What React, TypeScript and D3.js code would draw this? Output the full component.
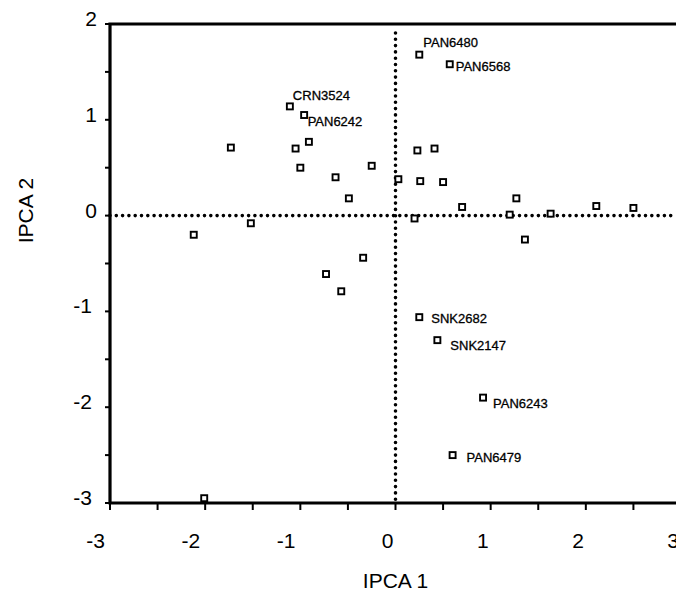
import { range, scaleLinear, select } from "d3";
import { useEffect, useRef } from "react";

// genotype scores on the first two interaction principal components
const genotypes = [
  "PAN6480", "PAN6568", "CRN3524", "PAN6242", "", "", "", "", "", "",
  "", "", "", "", "", "", "", "", "", "",
  "", "", "", "", "", "", "", "", "", "",
  "SNK2682", "SNK2147", "PAN6243", "PAN6479",
];
const ipca1 = [
  0.25, 0.57, -1.11, -0.96, -1.73, -1.05, -0.91, -1.0, -0.63, -0.25,
  -0.49, 0.23, 0.41, 0.03, 0.26, 0.5, 0.2, 0.7, 1.27, 1.2,
  1.36, 1.63, 2.11, 2.5, -2.12, -1.52, -0.34, -0.73, -0.57, -2.01,
  0.25, 0.44, 0.92, 0.6,
];
const ipca2 = [
  1.68, 1.58, 1.14, 1.05, 0.71, 0.7, 0.77, 0.5, 0.4, 0.52,
  0.18, 0.68, 0.7, 0.38, 0.36, 0.35, -0.03, 0.09, 0.18, 0.01,
  -0.25, 0.02, 0.1, 0.08, -0.2, -0.08, -0.44, -0.61, -0.79, -2.95,
  -1.06, -1.3, -1.9, -2.5,
];
const xTickLabels = [-3, -2, -1, 0, 1, 2, 3];
const yTickLabels = [2, 1, 0, -1, -2, -3];

// where each label sits relative to its square
const labelOffset: Record<string, [number, number]> = {
  PAN6480: [4, -8],
  PAN6568: [6, 6.5],
  CRN3524: [3, -6.5],
  PAN6242: [3.5, 11],
  SNK2682: [12, 5.5],
  SNK2147: [13, 9.5],
  PAN6243: [10, 10.5],
  PAN6479: [14, 7],
};

const width = 676;
const height = 595;
const font = "'Liberation Sans', Arial, Helvetica, sans-serif";

const App = () => {
  const ref = useRef<SVGSVGElement>(null);

  useEffect(() => {
    const svg = select(ref.current);
    svg.selectAll("*").remove();

    const x = scaleLinear().domain([-3, 3]).range([110, 681]);
    const y = scaleLinear().domain([-3, 2]).range([503, 24]);

    // reference lines at zero
    svg.append("line")
      .attr("x1", x(-3)).attr("x2", width)
      .attr("y1", y(0)).attr("y2", y(0))
      .attr("stroke", "#000").attr("stroke-width", 3.6)
      .attr("stroke-linecap", "round").attr("stroke-dasharray", "0 6.3");
    svg.append("line")
      .attr("x1", x(0)).attr("x2", x(0))
      .attr("y1", 33).attr("y2", y(-3))
      .attr("stroke", "#000").attr("stroke-width", 3.6)
      .attr("stroke-linecap", "round").attr("stroke-dasharray", "0 6.3");

    // frame (right side falls outside the picture)
    svg.append("path")
      .attr("d", `M${width},${y(2)}H${x(-3)}V${y(-3)}H${width}`)
      .attr("fill", "none").attr("stroke", "#000").attr("stroke-width", 3.2);

    // minor and major ticks every 0.5
    svg.append("g")
      .selectAll("line")
      .data(range(-3, 3.01, 0.5))
      .join("line")
        .attr("x1", d => x(d)).attr("x2", d => x(d))
        .attr("y1", y(-3)).attr("y2", y(-3) + 7)
        .attr("stroke", "#000").attr("stroke-width", 2);
    svg.append("g")
      .selectAll("line")
      .data(range(-3, 2.01, 0.5))
      .join("line")
        .attr("x1", x(-3) - 5).attr("x2", x(-3))
        .attr("y1", d => y(d)).attr("y2", d => y(d))
        .attr("stroke", "#000").attr("stroke-width", 2);

    // tick labels
    svg.append("g")
      .attr("font-family", font).attr("font-size", 21).attr("text-anchor", "end")
      .selectAll("text")
      .data(xTickLabels)
      .join("text")
        .attr("x", d => x(d) - (d < 0 ? 5 : 2))
        .attr("y", 548)
        .text(d => d);
    svg.append("g")
      .attr("font-family", font).attr("font-size", 21).attr("text-anchor", "end")
      .selectAll("text")
      .data(yTickLabels)
      .join("text")
        .attr("x", d => (d < 0 ? 92 : 97))
        .attr("y", d => y(d) + 2)
        .text(d => d);

    // axis titles
    svg.append("text")
      .attr("x", x(0)).attr("y", 588)
      .attr("text-anchor", "middle")
      .attr("font-family", font).attr("font-size", 21)
      .text("IPCA 1");
    svg.append("text")
      .attr("transform", `translate(33,${y(0) - 5}) rotate(-90)`)
      .attr("text-anchor", "middle")
      .attr("font-family", font).attr("font-size", 21)
      .text("IPCA 2");

    const points = genotypes.map((name, i) => ({ name, a: ipca1[i], b: ipca2[i] }));

    // genotype markers
    svg.append("g")
      .selectAll("rect")
      .data(points)
      .join("rect")
        .attr("x", d => x(d.a) - 3)
        .attr("y", d => y(d.b) - 3)
        .attr("width", 6).attr("height", 6)
        .attr("fill", "#fff").attr("stroke", "#000").attr("stroke-width", 1.9);

    svg.append("g")
      .attr("font-family", font).attr("font-size", 13)
      .attr("stroke", "#000").attr("stroke-width", 0.3)
      .selectAll("text")
      .data(points.filter(d => d.name))
      .join("text")
        .attr("x", d => x(d.a) + labelOffset[d.name][0])
        .attr("y", d => y(d.b) + labelOffset[d.name][1])
        .text(d => d.name);
  }, []);

  return (
    <svg
      ref={ref}
      width={width}
      height={height}
      style={{ position: "absolute", left: 0, top: 0, background: "#fff" }}
    />
  );
};

export default App;
